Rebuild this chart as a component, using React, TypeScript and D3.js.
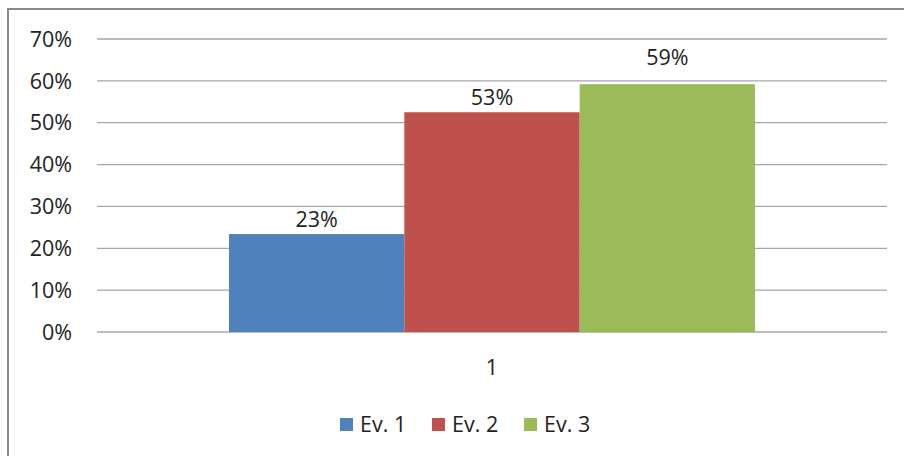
import React from "react";
import * as d3 from "d3";

const categories = ["1"];
const seriesNames = ["Ev. 1", "Ev. 2", "Ev. 3"];
const seriesValues = [0.234, 0.525, 0.592];
const seriesLabels = ["23%", "53%", "59%"];
const seriesColors = ["#4f81bd", "#c0504d", "#9bbb59"];
const yTicks = [0, 0.1, 0.2, 0.3, 0.4, 0.5, 0.6, 0.7];

const W = 904;
const H = 456;
const FONT = "'Open Sans', sans-serif";
const FS = 21.5;

export default function App() {
  const plotLeft = 97;
  const plotRight = 887;
  const y = d3.scaleLinear().domain([0, 0.7]).range([332, 39]);
  const x0 = d3.scaleBand().domain(categories).range([plotLeft, plotRight]).paddingInner(0).paddingOuter(0.251);
  const x1 = d3.scaleBand().domain(seriesNames).range([0, x0.bandwidth()]).padding(0);
  const fmt = d3.format(".0%");

  const legendItems = [
    { x: 340, textX: 360 },
    { x: 432, textX: 452 },
    { x: 524, textX: 544 },
  ];

  return (
    <svg width={W} height={H} style={{ position: "absolute", left: 0, top: 0, background: "#fff" }}>
      <rect x={0} y={0} width={W} height={H} fill="#fff" />
      <rect x={8} y={9} width={W + 20} height={H + 20} fill="#fff" stroke="#8a8a8a" strokeWidth={2} />
      {yTicks.map((t) => (
        <g key={t}>
          <line x1={plotLeft} x2={plotRight} y1={y(t)} y2={y(t)} stroke="#a6a6a6" strokeWidth={1.3} />
          <text x={72} y={y(t)} dy="0.36em" textAnchor="end" fontFamily={FONT} fontSize={FS} fill="#222">
            {fmt(t)}
          </text>
        </g>
      ))}
      {categories.map((c) => (
        <g key={c} transform={`translate(${x0(c)},0)`}>
          {seriesNames.map((s, i) => {
            const bx = x1(s)!;
            const bw = x1.bandwidth();
            const off = i === 2 ? 19 : 7;
            return (
              <g key={s}>
                <rect x={bx} y={y(seriesValues[i])} width={bw} height={y(0) - y(seriesValues[i])} fill={seriesColors[i]} />
                <text x={bx + bw / 2} y={y(seriesValues[i]) - off} textAnchor="middle" fontFamily={FONT} fontSize={FS} fill="#222">
                  {seriesLabels[i]}
                </text>
              </g>
            );
          })}
          <text x={x0.bandwidth() / 2} y={375} textAnchor="middle" fontFamily={FONT} fontSize={FS} fill="#222">
            {c}
          </text>
        </g>
      ))}
      {seriesNames.map((s, i) => (
        <g key={s}>
          <rect x={legendItems[i].x} y={418} width={13} height={13} fill={seriesColors[i]} />
          <text x={legendItems[i].textX} y={424.5} dy="0.36em" fontFamily={FONT} fontSize={FS} fill="#222">
            {s}
          </text>
        </g>
      ))}
    </svg>
  );
}
